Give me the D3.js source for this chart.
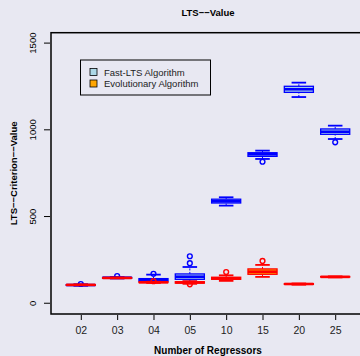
<!DOCTYPE html>
<html>
<head>
<meta charset="utf-8">
<script src="https://cdn.jsdelivr.net/npm/d3@7"></script>
<style>
  body { margin: 0; background: #e8e8f2; }
  svg { display: block; font-family: "Liberation Sans", Arial, sans-serif; }
</style>
</head>
<body>
<div id="chart"></div>
<script>
let groups = ['02', '03', '04', '05', '10', '15', '20', '25'];

// [lower whisker, q1, median, q3, upper whisker]
let fastStats = [
	[101, 103, 105, 107, 109],
	[143, 145, 147, 149, 151],
	[122, 127, 134, 142, 165],
	[125, 138, 153, 169, 209],
	[563, 578, 588, 600, 611],
	[832, 847, 859, 868, 880],
	[1189, 1216, 1234, 1251, 1272],
	[947, 974, 989, 1005, 1024]
];
let fastOutliers = [[111], [157], [170], [231, 271], [], [816], [], [928]];

let evoStats = [
	[104, 105, 106, 107, 108],
	[144, 145, 146, 147, 148],
	[117, 119, 121, 123, 124],
	[112, 116, 120, 124, 127],
	[129, 138, 144, 150, 161],
	[152, 167, 182, 198, 221],
	[107, 109, 111, 113, 114],
	[149, 151, 152, 154, 155]
];
let evoOutliers = [[], [], [127], [109], [180], [244], [], []];

let yTicks = [0, 500, 1000, 1500];
let legendLabels = ['Fast-LTS Algorithm', 'Evolutionary Algorithm'];

let width = 360, height = 356;
let mLeft = 51, mTop = 32.7, mBottom = 314, mRight = 365;

let svg = d3.select('#chart').append('svg')
	.attr('width', width)
	.attr('height', height);

let x = d3.scaleLinear().domain([0.18, groups.length + 0.82]).range([mLeft, mRight]);
let y = d3.scaleLinear().domain([-62, 1560]).range([mBottom, mTop]);
let boxW = (x(1) - x(0)) * 0.8;

function drawBoxes(stats, outliers, fill, stroke) {
	let g = svg.append('g');
	stats.forEach((s, i) => {
		let cx = x(i + 1);
		let b = g.append('g');
		// whiskers
		b.append('line').attr('x1', cx).attr('x2', cx).attr('y1', y(s[0])).attr('y2', y(s[1]))
			.attr('stroke', stroke).attr('stroke-width', 1).attr('stroke-dasharray', '2,1.5');
		b.append('line').attr('x1', cx).attr('x2', cx).attr('y1', y(s[3])).attr('y2', y(s[4]))
			.attr('stroke', stroke).attr('stroke-width', 1).attr('stroke-dasharray', '2,1.5');
		// staples
		[s[0], s[4]].forEach(v => {
			b.append('line').attr('x1', cx - boxW / 4).attr('x2', cx + boxW / 4)
				.attr('y1', y(v)).attr('y2', y(v))
				.attr('stroke', stroke).attr('stroke-width', 1.8);
		});
		// box
		b.append('rect')
			.attr('x', cx - boxW / 2).attr('width', boxW)
			.attr('y', y(s[3])).attr('height', Math.max(y(s[1]) - y(s[3]), 0.5))
			.attr('fill', fill).attr('stroke', stroke).attr('stroke-width', 1.3);
		// median
		b.append('line').attr('x1', cx - boxW / 2).attr('x2', cx + boxW / 2)
			.attr('y1', y(s[2])).attr('y2', y(s[2]))
			.attr('stroke', stroke).attr('stroke-width', 2.6);
		outliers[i].forEach(v => {
			b.append('circle').attr('cx', cx).attr('cy', y(v)).attr('r', 2.4)
				.attr('fill', 'none').attr('stroke', stroke).attr('stroke-width', 1.4);
		});
	});
}

drawBoxes(fastStats, fastOutliers, '#add8e6', '#0000ff');
drawBoxes(evoStats, evoOutliers, '#ffa500', '#ff0000');

// frame
svg.append('rect')
	.attr('x', mLeft).attr('y', mTop)
	.attr('width', mRight - mLeft).attr('height', mBottom - mTop)
	.attr('fill', 'none').attr('stroke', '#000').attr('stroke-width', 1.5);

// y axis
let yAxis = svg.append('g').attr('transform', `translate(${mLeft - 1},0)`)
	.call(d3.axisLeft(y).tickValues(yTicks).tickSize(6).tickPadding(0).tickFormat(d3.format('d')));
yAxis.select('.domain').remove();
yAxis.selectAll('line').attr('stroke', '#000').attr('stroke-width', 1);
yAxis.selectAll('.tick').attr('transform', null);
yAxis.selectAll('.tick line').attr('y1', d => y(d)).attr('y2', d => y(d));
yAxis.selectAll('text')
	.attr('x', 0).attr('dy', 0).attr('y', 0)
	.attr('transform', d => `translate(-14,${y(d)}) rotate(-90)`)
	.attr('text-anchor', 'middle')
	.attr('font-size', 9.5)
	.attr('fill', '#000')
	.style('font-family', '"Liberation Sans", Arial, sans-serif');

// x axis
let xAxis = svg.append('g').attr('transform', `translate(0,${mBottom + 1})`)
	.call(d3.axisBottom(x).tickValues(d3.range(1, groups.length + 1)).tickSize(5).tickPadding(7)
		.tickFormat((d, i) => groups[i]));
xAxis.select('.domain').remove();
xAxis.selectAll('line').attr('stroke', '#000').attr('stroke-width', 1);
xAxis.selectAll('text')
	.attr('font-size', 10.5)
	.attr('fill', '#222')
	.style('font-family', '"Liberation Sans", Arial, sans-serif');

// titles
let cxPlot = (mLeft + mRight) / 2;
svg.append('text').attr('x', cxPlot).attr('y', 16).attr('text-anchor', 'middle')
	.attr('font-size', 9.5).attr('font-weight', 'bold').text('LTS\u2212\u2212Value');
svg.append('text').attr('x', cxPlot).attr('y', 354).attr('text-anchor', 'middle')
	.attr('font-size', 10).attr('font-weight', 'bold').text('Number of Regressors');
svg.append('text')
	.attr('transform', `translate(17,${(mTop + mBottom) / 2}) rotate(-90)`)
	.attr('text-anchor', 'middle')
	.attr('font-size', 9.5).attr('font-weight', 'bold').text('LTS\u2212\u2212Criterion\u2212\u2212Value');

// legend
let lg = svg.append('g');
lg.append('rect').attr('x', 80.5).attr('y', 60).attr('width', 130).attr('height', 35)
	.attr('fill', 'none').attr('stroke', '#000').attr('stroke-width', 1);
let legendFill = ['#add8e6', '#ffa500'];
legendLabels.forEach((t, i) => {
	let ly = 72 + i * 11.5;
	lg.append('rect').attr('x', 90).attr('y', ly - 3.5).attr('width', 7).attr('height', 7)
		.attr('fill', legendFill[i]).attr('stroke', '#000').attr('stroke-width', 0.8);
	lg.append('text').attr('x', 104).attr('y', ly + 3.5)
		.attr('font-size', 9.5).attr('fill', '#222').text(t);
});
</script>
</body>
</html>
